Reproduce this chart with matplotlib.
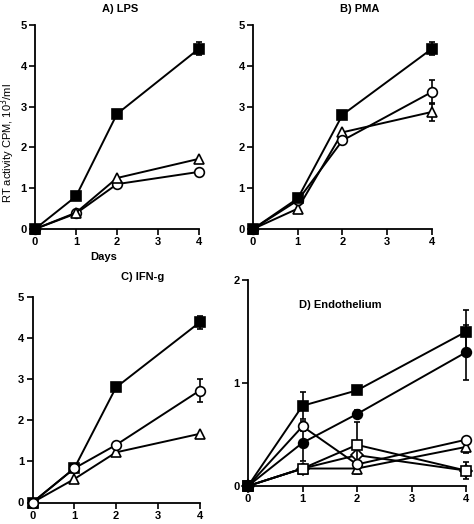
import matplotlib
matplotlib.use("Agg")
import matplotlib.pyplot as plt

plt.rcParams['font.family'] = ['Liberation Sans', 'DejaVu Sans']

days = [0, 1, 2, 4]

# Panel A: LPS
a_sq = [0, 0.80, 2.82, 4.42]
a_sq_err = [0, 0, 0, 0.16]
a_tri = [0, 0.40, 1.25, 1.72]
a_circ = [0, 0.38, 1.10, 1.40]

# Panel B: PMA
b_sq = [0, 0.75, 2.80, 4.42]
b_sq_err = [0, 0, 0, 0.16]
b_circ = [0, 0.70, 2.17, 3.36]
b_circ_err = [0, 0, 0, 0.30]
b_tri = [0, 0.50, 2.37, 2.87]
b_tri_err = [0, 0, 0, 0.22]

# Panel C: IFN-g
c_sq = [0, 0.83, 2.80, 4.38]
c_sq_err = [0, 0, 0, 0.16]
c_circ = [0, 0.83, 1.40, 2.72]
c_circ_err = [0, 0, 0, 0.28]
c_tri = [0, 0.57, 1.22, 1.67]

# Panel D: Endothelium
d_fsq = [0, 0.78, 0.93, 1.50]
d_fsq_err = [0, 0.13, 0, 0.21]
d_fcirc = [0, 0.42, 0.70, 1.30]
d_fcirc_err = [0, 0.18, 0.04, 0.27]
d_ocirc = [0, 0.58, 0.21, 0.45]
d_ocirc_err = [0, 0.05, 0, 0]
d_osq = [0, 0.17, 0.40, 0.15]
d_osq_err = [0, 0, 0.22, 0.08]
d_tri = [0, 0.17, 0.17, 0.38]
d_tri_err = [0, 0, 0.05, 0.06]
d_dia = [0, 0.17, 0.30, 0.15]

titles = ["A) LPS", "B) PMA", "C) IFN-g", "D) Endothelium"]
ylabel = "RT activity CPM, 10$^{3}$/ml"
xlabel = "Days"

W, H = 474, 524
fig = plt.figure(figsize=(W / 100, H / 100), dpi=100)


def make_axes(x0, x4, yb, yt, ymax, pad=0.13):
    ux = (x4 - x0) / 4.0
    uy = (yb - yt) / ymax
    xlo, xhi = -pad, 4 + 0.15
    ylo, yhi = -pad * ymax / 5, ymax * 1.02
    left = x0 + xlo * ux
    right = x0 + xhi * ux
    bottom = yb - ylo * uy
    top = yb - yhi * uy
    ax = fig.add_axes([left / W, 1 - bottom / H, (right - left) / W, (bottom - top) / H])
    ax.set_xlim(xlo, xhi)
    ax.set_ylim(ylo, yhi)
    for s in ['top', 'right']:
        ax.spines[s].set_visible(False)
    ax.spines['left'].set_position(('data', 0))
    ax.spines['bottom'].set_position(('data', 0))
    ax.spines['left'].set_bounds(0, ymax)
    ax.spines['bottom'].set_bounds(0, 4)
    for s in ['left', 'bottom']:
        ax.spines[s].set_linewidth(1.3)
    ax.set_xticks([0, 1, 2, 3, 4])
    ax.set_yticks(range(0, ymax + 1))
    ax.tick_params(direction='out', length=4, width=1.2, labelsize=8, pad=2)
    for lab in ax.get_xticklabels() + ax.get_yticklabels():
        lab.set_fontweight('bold')
    ax.patch.set_alpha(0)
    return ax


def series(ax, y, marker, filled, err=None, ms=7):
    fc = 'black' if filled else 'white'
    if err is not None:
        ax.errorbar(days, y, yerr=err, color='black', lw=1.4, capsize=2.5,
                    elinewidth=1.2, capthick=1.2, marker=marker, ms=ms,
                    mfc=fc, mec='black', mew=1.2, zorder=3, clip_on=False)
    else:
        ax.plot(days, y, color='black', lw=1.4, marker=marker, ms=ms,
                mfc=fc, mec='black', mew=1.2, zorder=3, clip_on=False)


def ftext(x, y, s, **kw):
    fig.text(x / W, 1 - y / H, s, **kw)


axA = make_axes(35, 199, 229, 25, 5)
series(axA, a_circ, 'o', False)
series(axA, a_tri, '^', False)
series(axA, a_sq, 's', True, a_sq_err)

axB = make_axes(253, 432, 229, 25, 5)
series(axB, b_tri, '^', False, b_tri_err)
series(axB, b_circ, 'o', False, b_circ_err)
series(axB, b_sq, 's', True, b_sq_err)

axC = make_axes(32.5, 199.5, 502.5, 297, 5)
series(axC, c_tri, '^', False)
series(axC, c_sq, 's', True, c_sq_err)
series(axC, c_circ, 'o', False, c_circ_err)

axD = make_axes(248, 466, 486, 280.3, 2)
series(axD, d_dia, 'D', False, ms=6)
series(axD, d_tri, '^', False, d_tri_err)
series(axD, d_osq, 's', False, d_osq_err)
series(axD, d_ocirc, 'o', False, d_ocirc_err)
series(axD, d_fcirc, 'o', True, d_fcirc_err)
series(axD, d_fsq, 's', True, d_fsq_err)
axD.text(1.69, 1.76, titles[3], fontsize=8, fontweight='bold', ha='center', va='center')

tkw = dict(fontsize=8, fontweight='bold', ha='center', va='center')
ftext(120, 9, titles[0], **tkw)
ftext(360, 9, titles[1], **tkw)
ftext(143, 277, titles[2], **tkw)
ftext(104, 257, xlabel, **tkw)
ftext(8, 143, ylabel, fontsize=8, ha='center', va='center', rotation=90)

fig.savefig("out.png", dpi=100)
